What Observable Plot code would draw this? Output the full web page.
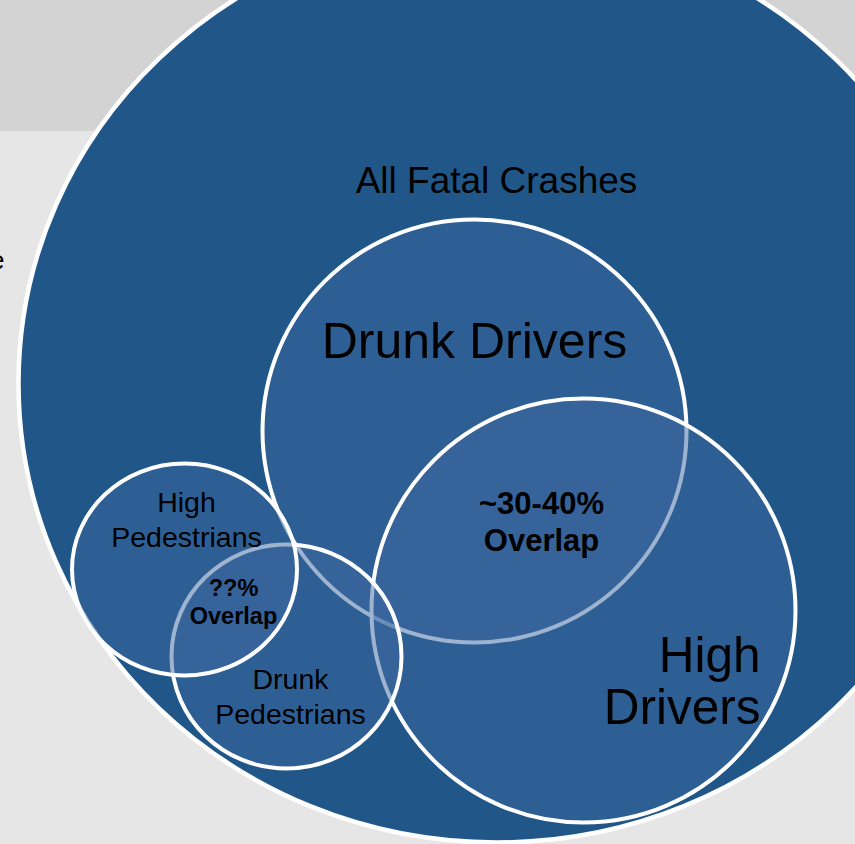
<!DOCTYPE html>
<html>
<head>
<meta charset="utf-8">
<script src="https://cdn.jsdelivr.net/npm/d3@7"></script>
<script src="https://cdn.jsdelivr.net/npm/@observablehq/plot@0.6"></script>
<style>
  html, body { margin: 0; padding: 0; }
  body {
    width: 855px; height: 844px; overflow: hidden;
    background: linear-gradient(to bottom, #d3d3d3 0px, #d3d3d3 131px, #e6e6e6 131px, #e6e6e6 100%);
  }
  #chart svg { display: block; }
</style>
</head>
<body>
<div id="chart"></div>
<script>
// ---- data: sets of the Venn diagram (bottom to top) ----
const setNames = ["All Fatal Crashes", "Drunk Drivers", "High Drivers", "Drunk Pedestrians", "High Pedestrians"];
const setCx    = [496.5, 474, 583, 286, 184];
const setCy    = [383, 430.5, 610, 656, 569];
const setRx    = [478.5, 212, 212, 115, 112.5];
const setRy    = [459, 211.5, 212, 112, 106];

// ---- labels ----
const labelTexts = ["All Fatal Crashes", "Drunk Drivers", "High\nDrivers", "High\nPedestrians", "Drunk\nPedestrians", "~30-40%\nOverlap", "??%\nOverlap", "e"];
const labelX     = [496, 474, 760, 186, 290, 541, 233, 4];
const labelY     = [192, 357, 723, 546, 723, 550.5, 623, 268];

const sets = setNames.map((name, i) => ({name, cx: setCx[i], cy: setCy[i], rx: setRx[i], ry: setRy[i]}));
const labels = labelTexts.map((text, i) => ({text, x: labelX[i], y: labelY[i]}));

function ellipseSymbol(k) {
  const c = 0.5522847498;
  return {
    draw(ctx, size) {
      const rx = Math.sqrt(size / Math.PI), ry = rx * k;
      ctx.moveTo(rx, 0);
      ctx.bezierCurveTo(rx, ry * c, rx * c, ry, 0, ry);
      ctx.bezierCurveTo(-rx * c, ry, -rx, ry * c, -rx, 0);
      ctx.bezierCurveTo(-rx, -ry * c, -rx * c, -ry, 0, -ry);
      ctx.bezierCurveTo(rx * c, -ry, rx, -ry * c, rx, 0);
      ctx.closePath();
    }
  };
}

const font = "'Liberation Sans', Arial, sans-serif";

const setMarks = sets.map((s, i) => Plot.dot([s], {
  x: "cx", y: "cy", r: "rx",
  symbol: ellipseSymbol(s.ry / s.rx),
  fill: i === 0 ? "#215788" : "#3b68a0",
  fillOpacity: i === 0 ? 1 : 0.5,
  stroke: "white",
  strokeWidth: i === 0 ? 4.5 : 4
}));

function textMark(idx, opts) {
  return Plot.text(idx.map(i => labels[i]), {
    x: "x", y: "y", text: "text",
    fill: "black", fontFamily: font, lineAnchor: "bottom",
    ...opts
  });
}

const chart = Plot.plot({
  width: 855, height: 844,
  margin: 0,
  x: {domain: [0, 855], range: [0, 855], axis: null},
  y: {domain: [0, 844], range: [0, 844], axis: null},
  r: {type: "identity"},
  style: {background: "none", overflow: "visible"},
  marks: [
    ...setMarks,
    textMark([0], {fontSize: 37}),
    textMark([1], {fontSize: 50}),
    textMark([2], {fontSize: 49.5, textAnchor: "end", lineHeight: 1.04}),
    textMark([3, 4], {fontSize: 28.5, lineHeight: 1.22}),
    textMark([5], {fontSize: 31, fontWeight: "bold", lineHeight: 1.21}),
    textMark([6], {fontSize: 23.5, fontWeight: "bold", lineHeight: 1.15}),
    textMark([7], {fontSize: 26, textAnchor: "end"})
  ]
});
document.getElementById("chart").appendChild(chart);
</script>
</body>
</html>
